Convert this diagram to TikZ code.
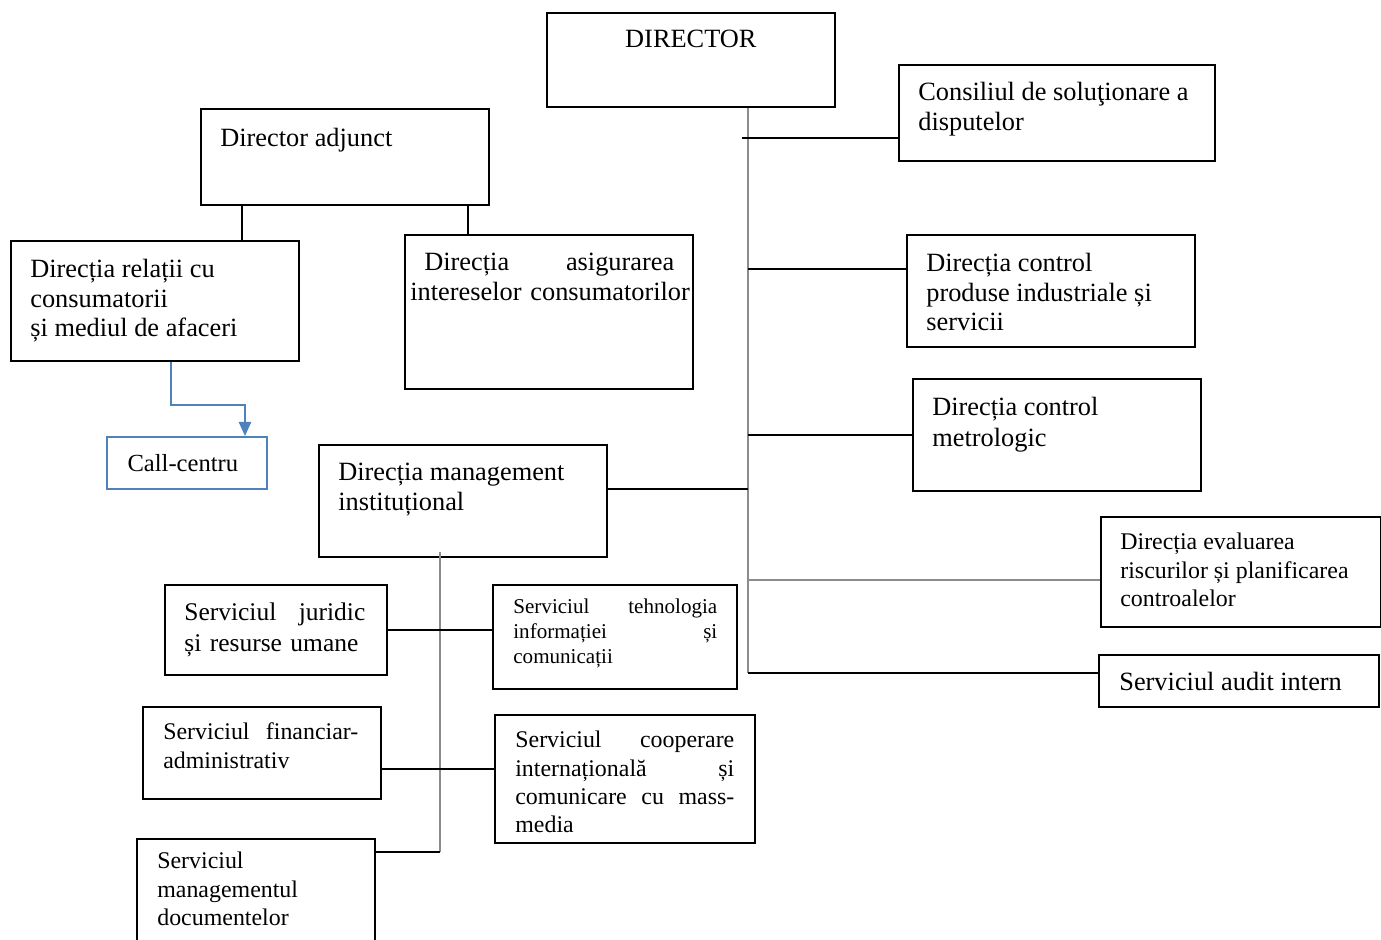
\documentclass[tikz,border=0pt]{standalone}
\usepackage{fontspec}
\setmainfont{Liberation Serif}
\usetikzlibrary{positioning,arrows.meta}
\definecolor{CallColor}{RGB}{79,129,189}
\definecolor{SpineColor}{gray}{0.55}
\tikzset{
    box/.style={rectangle, draw, line width=1pt, anchor=north west, inner sep=0pt},
    callbox/.style={box, draw=CallColor, font=\fontsize{14}{17}\selectfont},
    txt/.style={anchor=north west, inner sep=0pt, align=left, font=\fontsize{15}{17}\selectfont},
    smalltxt/.style={txt, font=\fontsize{13.6}{16}\selectfont},
    tinytxt/.style={txt, font=\fontsize{12}{14.2}\selectfont},
    evaltxt/.style={txt, font=\fontsize{13.6}{16}\selectfont},
    connection/.style={line width=1pt},
    spine/.style={line width=1.2pt, draw=SpineColor},
    callarrow/.style={line width=1pt, draw=CallColor, -{Triangle[width=7pt,length=8pt]}}
}

\begin{document}
\begin{tikzpicture}[x=0.02cm, y=-0.02cm]
\useasboundingbox (0,0) rectangle (1381,939);

% Director
\node[box, minimum width=5.76cm, minimum height=1.88cm] (director) at (546,12) {};
\node[txt, anchor=north] (director-txt) at ([yshift=-0.36cm]director.north) {DIRECTOR};

% Director adjunct and his directions
\node[box, minimum width=5.76cm, minimum height=1.92cm] (adjunct) at (200,108) {};
\node[txt] (adjunct-txt) at ([shift={(0.4cm,-0.4cm)}]adjunct.north west) {Director adjunct};

\node[box, minimum width=5.76cm, minimum height=2.4cm] (relatii) at (10,240) {};
\node[txt] (relatii-txt) at ([shift={(0.4cm,-0.37cm)}]relatii.north west) {Direcția relații cu\\consumatorii\\și mediul de afaceri};

\node[box, minimum width=5.76cm, minimum height=3.08cm] (asigurarea) at (404,234) {};
\node[txt, text width=5.64cm] (asigurarea-txt) at ([shift={(0.12cm,-0.38cm)}]asigurarea.north west) {\hspace*{0.28cm}Direcția\hfill asigurarea\hspace*{0.36cm}\mbox{}\\intereselor consumatorilor};

\node[callbox, minimum width=3.2cm, minimum height=1.04cm] (callc) at (106,436) {Call-centru\hspace*{0.16cm}};

% Right side directions
\node[box, minimum width=6.32cm, minimum height=1.92cm] (consiliul) at (898,64) {};
\node[txt] (consiliul-txt) at ([shift={(0.4cm,-0.36cm)}]consiliul.north west) {Consiliul de soluţionare a\\disputelor};

\node[box, minimum width=5.76cm, minimum height=2.24cm] (produse) at (906,234) {};
\node[txt] (produse-txt) at ([shift={(0.4cm,-0.37cm)}]produse.north west) {Direcția control\\produse industriale și\\servicii};

\node[box, minimum width=5.76cm, minimum height=2.24cm] (metrologic) at (912,378) {};
\node[txt, font=\fontsize{15}{18}\selectfont] (metrologic-txt) at ([shift={(0.4cm,-0.37cm)}]metrologic.north west) {Direcția control\\metrologic};

\node[box, minimum width=5.6cm, minimum height=2.2cm] (evaluarea) at (1100,516) {};
\node[evaltxt] (evaluarea-txt) at ([shift={(0.4cm,-0.34cm)}]evaluarea.north west) {Direcția evaluarea\\riscurilor și planificarea\\controalelor};

\node[box, minimum width=5.6cm, minimum height=1.04cm] (audit) at (1098,654) {};
\node[txt] (audit-txt) at ([shift={(0.42cm,-0.36cm)}]audit.north west) {Serviciul audit intern};

% Management institutional and its services
\node[box, minimum width=5.76cm, minimum height=2.24cm] (management) at (318,444) {};
\node[txt] (management-txt) at ([shift={(0.4cm,-0.38cm)}]management.north west) {Direcția management\\instituțional};

\node[box, minimum width=4.44cm, minimum height=1.8cm] (juridic) at (164,584) {};
\node[txt, text width=3.62cm, font=\fontsize{14.5}{18}\selectfont] (juridic-txt) at ([shift={(0.4cm,-0.36cm)}]juridic.north west) {Serviciul\hfill juridic\\și resurse umane};

\node[box, minimum width=4.88cm, minimum height=2.08cm] (tehnologia) at (492,584) {};
\node[tinytxt, text width=4.08cm] (tehnologia-txt) at ([shift={(0.42cm,-0.29cm)}]tehnologia.north west) {Serviciul\hfill tehnologia\\informației\hfill și\\comunicații};

\node[box, minimum width=4.76cm, minimum height=1.84cm] (financiar) at (142,706) {};
\node[smalltxt, text width=3.9cm, font=\fontsize{13.6}{16.5}\selectfont] (financiar-txt) at ([shift={(0.42cm,-0.33cm)}]financiar.north west) {Serviciul\hfill financiar-\\administrativ};

\node[box, minimum width=5.2cm, minimum height=2.56cm] (cooperare) at (494,714) {};
\node[smalltxt, text width=4.38cm] (cooperare-txt) at ([shift={(0.42cm,-0.34cm)}]cooperare.north west) {Serviciul\hfill cooperare\\internațională\hfill și\\comunicare\hfill cu\hfill mass-\\media};

\node[box, minimum width=4.76cm, minimum height=2.4cm] (documente) at (136,838) {};
\node[smalltxt] (documente-txt) at ([shift={(0.42cm,-0.28cm)}]documente.north west) {Serviciul\\managementul\\documentelor};

% Connection points
\coordinate (adjL) at ([xshift=0.84cm]adjunct.south west);
\coordinate (adjR) at ([xshift=-0.44cm]adjunct.south east);
\coordinate (relCall) at ([xshift=3.22cm]relatii.south west);
\coordinate (callIn) at ([xshift=2.78cm]callc.north west);
\coordinate (dirSpine) at ([xshift=4.04cm]director.south west);
\coordinate (consIn) at ([yshift=-0.5cm]consiliul.west);
\coordinate (prodIn) at ([yshift=0.44cm]produse.west);
\coordinate (evalIn) at ([yshift=-0.16cm]evaluarea.west);
\coordinate (auditIn) at ([yshift=0.16cm]audit.west);
\coordinate (mgmOut) at ([yshift=0.24cm]management.east);
\coordinate (mgmSpine) at ([xshift=2.44cm,yshift=0.12cm]management.south west);
\coordinate (finOut) at ([yshift=-0.32cm]financiar.east);
\coordinate (docOut) at ([yshift=-0.28cm]documente.north east);

% Connections
\draw[connection] (adjL) -- (adjL |- relatii.north);
\draw[connection] (adjR) -- (adjR |- asigurarea.north);
\draw[callarrow] (relCall) -- ++(0,43) -| (callIn);

\draw[spine] (dirSpine) -- (dirSpine |- auditIn);
\draw[connection] ([xshift=-0.12cm]dirSpine |- consIn) -- (consIn);
\draw[connection] (dirSpine |- prodIn) -- (prodIn);
\draw[connection] (dirSpine |- metrologic.west) -- (metrologic.west);
\draw[connection] (mgmOut) -- (mgmOut -| dirSpine);
\draw[spine] (dirSpine |- evalIn) -- (evalIn);
\draw[connection] (dirSpine |- auditIn) -- (auditIn);

\draw[spine] (mgmSpine) -- (mgmSpine |- docOut);
\draw[connection] (juridic.east) -- (juridic.east -| tehnologia.west);
\draw[connection] (finOut) -- (finOut -| cooperare.west);
\draw[connection] (docOut) -- (docOut -| mgmSpine);

\end{tikzpicture}
\end{document}
